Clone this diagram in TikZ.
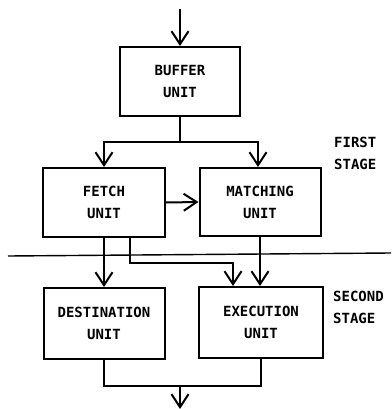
\documentclass[tikz,border=0pt]{standalone}
\usepackage{fontspec}
\setmonofont{DejaVu Sans Mono}
\usetikzlibrary{arrows.meta}
\begin{document}
\begin{tikzpicture}[x=1pt,y=-1pt,
  every node/.style={font=\ttfamily\bfseries\fontsize{14}{22}\selectfont},
  unitbox/.style={draw,line width=2pt,align=center,inner sep=0pt},
  conn/.style={line width=2pt},
  arr/.style={conn,-{Straight Barb[length=13pt,width=17pt,line width=2pt]}},
  lbl/.style={anchor=west,align=left,inner sep=0pt}]
\useasboundingbox (0,0) rectangle (391,409);
\node[unitbox,minimum width=120,minimum height=69] (buffer) at (180,81.5) {BUFFER\\UNIT};
\node[unitbox,minimum width=122,minimum height=69] (fetch) at (104,202.5) {FETCH\\UNIT};
\node[unitbox,minimum width=121,minimum height=68] (match) at (260,202) {MATCHING\\UNIT};
\node[unitbox,minimum width=121,minimum height=71] (dest) at (104,323.5) {DESTINATION\\UNIT};
\node[unitbox,minimum width=124,minimum height=71] (exec) at (261,322.5) {EXECUTION\\UNIT};
\node[lbl] (first) at (334,153) {FIRST\\STAGE};
\node[lbl] (second) at (333,307) {SECOND\\STAGE};
\coordinate (in) at (180,9);
\coordinate (split) at (180,142);
\coordinate (route) at (130,263);
\coordinate (merge) at (180,386);
\coordinate (out) at (180,409);
\coordinate (sepL) at (8,256);
\coordinate (sepR) at (391,253);
\draw[conn,line width=1.4pt] (sepL) -- (sepR);
\draw[arr] (in) -- (buffer.north);
\draw[conn] (buffer.south) -- (split);
\draw[arr] (split) -| (fetch.north);
\draw[arr] (split) -| ([xshift=-2pt]match.north);
\draw[arr] (fetch.east) -- (match.west);
\draw[arr] (fetch.south) -- (dest.north);
\draw[arr] ([xshift=26pt]fetch.south) |- (route) -| ([xshift=-28pt]exec.north);
\draw[arr] (match.south) -- (match.south |- exec.north);
\draw[conn] (dest.south) |- (merge) -| (exec.south);
\draw[arr] (merge) -- (out);
\end{tikzpicture}
\end{document}
